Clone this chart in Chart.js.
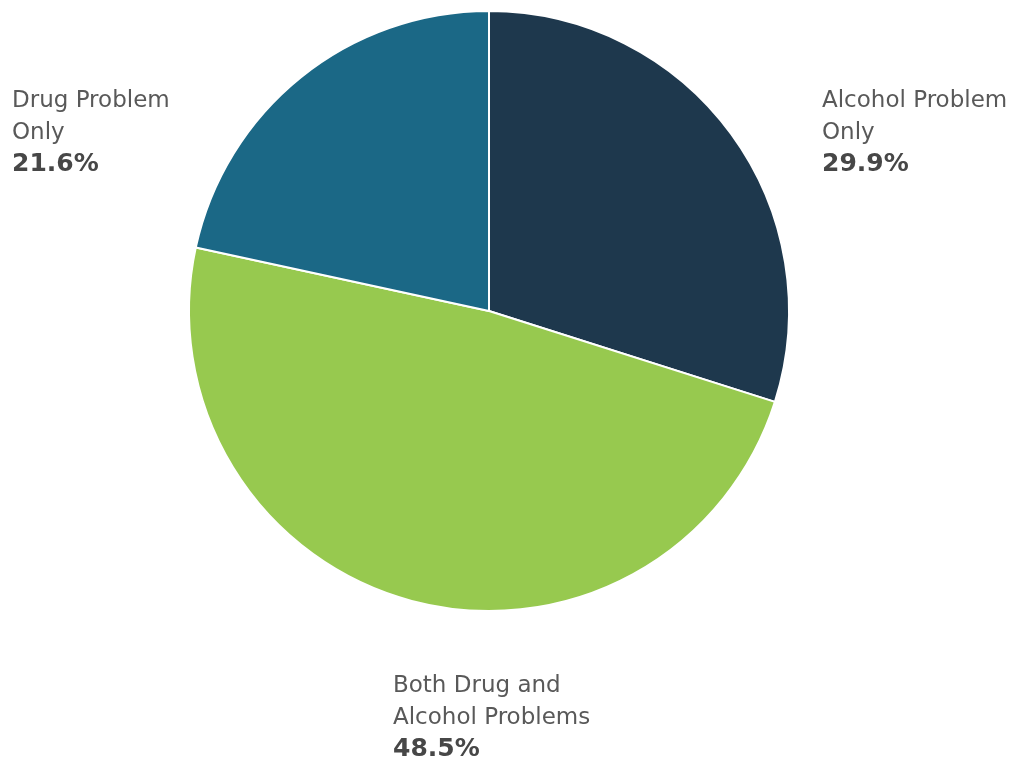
<!DOCTYPE html>
<html>
<head>
<meta charset="utf-8">
<script src="https://cdn.jsdelivr.net/npm/chart.js@4"></script>
<style>
html,body{margin:0;padding:0;background:#fff;}
#wrap{width:1011px;height:759px;position:relative;}
</style>
</head>
<body>
<div id="wrap"><canvas id="c" width="1011" height="759"></canvas></div>
<script>
const categories = ["Alcohol Problem Only", "Both Drug and Alcohol Problems", "Drug Problem Only"];
const labelLines = [["Alcohol Problem", "Only"], ["Both Drug and", "Alcohol Problems"], ["Drug Problem", "Only"]];
const values = [29.9, 48.5, 21.6];
const colors = ["#1e384d", "#97c94f", "#1b6886"];

const labelPlugin = {
  id: 'sliceLabels',
  afterDraw(chart) {
    const ctx = chart.ctx;
    const pos = chart.options.plugins.sliceLabels.positions;
    ctx.save();
    ctx.textAlign = 'left';
    ctx.textBaseline = 'alphabetic';
    values.forEach((v, i) => {
      const p = pos[i];
      ctx.fillStyle = '#595959';
      ctx.font = '23px "DejaVu Sans", sans-serif';
      labelLines[i].forEach((t, j) => ctx.fillText(t, p.x, p.y + j * 32));
      ctx.fillStyle = '#474747';
      ctx.font = 'bold 25px "DejaVu Sans", sans-serif';
      ctx.fillText(v.toFixed(1) + '%', p.x, p.y + labelLines[i].length * 32);
    });
    ctx.restore();
  }
};

new Chart(document.getElementById('c'), {
  type: 'pie',
  data: {
    labels: categories,
    datasets: [{
      data: values,
      backgroundColor: colors,
      borderColor: '#ffffff',
      borderWidth: 2
    }]
  },
  options: {
    responsive: false,
    animation: false,
    layout: { padding: { left: 188, right: 221, top: 10, bottom: 147 } },
    plugins: {
      legend: { display: false },
      tooltip: { enabled: false },
      sliceLabels: { positions: [{x: 822, y: 107}, {x: 393, y: 692}, {x: 12, y: 107}] }
    }
  },
  plugins: [labelPlugin]
});
</script>
</body>
</html>
